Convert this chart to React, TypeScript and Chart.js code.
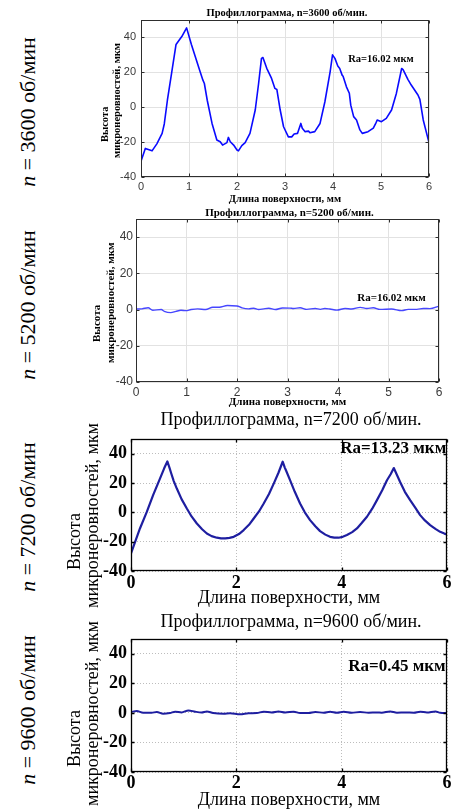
import React, { useEffect, useRef } from 'react';
import { Chart, registerables } from 'chart.js';

Chart.register(...registerables);

// ---------- data ----------
const SPEEDS = ['3600', '5200', '7200', '9600'];
const RA_VALUES = ['16.02', '16.02', '13.23', '0.45'];
const X_TICKS_1MM = [0, 1, 2, 3, 4, 5, 6];
const X_TICKS_2MM = [0, 2, 4, 6];
const Y_TICKS = [-40, -20, 0, 20, 40];
const X_MIN = 0;
const X_MAX = 6;
const Y_MIN = -40;
const Y_MAX = 50;
const X_TITLE = 'Длина поверхности, мм';
const Y_TITLE_1 = 'Высота';
const Y_TITLE_2 = 'микронеровностей, мкм';

// [position along surface, mm ; height, µm]
const PROFILE_3600: [number, number][] = [
  [0, -31], [0.09, -23.6], [0.23, -25], [0.33, -21], [0.44, -15], [0.485, -9.6],
  [0.55, 4], [0.64, 20], [0.73, 36], [0.85, 40.5], [0.95, 45.5], [1.05, 36],
  [1.11, 30.8], [1.22, 21.3], [1.29, 15.5], [1.32, 13.6], [1.38, 4], [1.48, -9.3],
  [1.58, -18.8], [1.65, -19.8], [1.7, -21.7], [1.79, -20.3], [1.82, -17.3], [1.86, -19.8],
  [1.93, -21.7], [2.0, -24.5], [2.03, -25], [2.1, -22], [2.17, -20.3], [2.27, -15],
  [2.38, -1.6], [2.45, 13.6], [2.51, 28], [2.54, 28.5], [2.62, 22.3], [2.72, 16.5],
  [2.79, 10.8], [2.83, 10.2], [2.9, -1.6], [2.97, -11.2], [3.07, -17], [3.14, -17],
  [3.19, -15.4], [3.26, -15], [3.33, -9.3], [3.36, -12], [3.42, -14], [3.49, -13.7],
  [3.52, -14.6], [3.62, -14], [3.73, -9.3], [3.83, 3], [3.94, 20.3], [3.99, 30],
  [4.04, 28], [4.1, 23.6], [4.14, 22.2], [4.19, 18.4], [4.21, 17.8], [4.28, 11.7],
  [4.34, 8], [4.37, 1.2], [4.43, -5.4], [4.49, -7.3], [4.56, -13], [4.61, -15],
  [4.73, -14], [4.84, -12], [4.89, -9.3], [4.92, -7.3], [5.01, -8.3], [5.11, -6.4],
  [5.22, -1.6], [5.32, 7.9], [5.43, 22.2], [5.46, 21.6], [5.56, 16], [5.63, 12.7],
  [5.77, 7], [5.81, 4.5], [5.88, -7.3], [6.0, -20.3],
];

const PROFILE_5200: [number, number][] = [
  [0, 0.3], [0.12, 0.4], [0.24, 1.0], [0.33, -0.4], [0.5, 0], [0.56, -1],
  [0.69, -1.7], [0.79, -1], [0.89, -0.4], [0.99, -0.6], [1.09, 0], [1.22, 0.4],
  [1.38, 0], [1.52, 1.3], [1.65, 1.3], [1.81, 2.2], [2.0, 2.0], [2.1, 0.9],
  [2.23, 0.4], [2.33, 0.7], [2.43, 0], [2.53, 0.4], [2.63, 0.7], [2.76, 0],
  [2.9, 0.9], [3.05, 0.8], [3.12, 0.6], [3.25, 1.0], [3.38, 0.1], [3.55, 0.6],
  [3.65, 0.1], [3.74, 0.6], [3.84, 0.3], [3.98, -0.3], [4.14, 0.6], [4.27, 0.3],
  [4.44, 1.2], [4.57, 0.6], [4.7, 1.0], [4.83, 0.1], [5.06, 0.3], [5.26, -0.6],
  [5.39, 0.1], [5.56, 0.1], [5.69, 0.6], [5.82, 0.5], [6.0, 1.9],
];

const PROFILE_7200: [number, number][] = [
  [0, -28], [0.08, -20], [0.17, -11], [0.3, 0.3], [0.42, 11.7], [0.55, 23],
  [0.63, 30], [0.69, 34.7], [0.73, 30.5], [0.76, 27], [0.81, 21.5], [0.87, 16.2],
  [0.96, 9], [1.06, 2.6], [1.15, -2.8], [1.25, -7.6], [1.35, -11.5], [1.44, -14.4],
  [1.53, -16.2], [1.63, -17.3], [1.71, -17.7], [1.79, -17.8], [1.87, -17.4], [1.95, -16.7],
  [2.05, -14.8], [2.14, -12.1], [2.24, -8.5], [2.33, -4.2], [2.43, 0.6], [2.52, 6],
  [2.62, 12.5], [2.71, 19.6], [2.8, 27], [2.88, 34.5], [2.92, 30.5], [2.95, 28],
  [3.02, 22], [3.11, 14], [3.21, 6], [3.3, 0], [3.4, -5.3], [3.5, -9.5],
  [3.59, -12.8], [3.69, -15.2], [3.78, -16.7], [3.86, -17.2], [3.94, -17.3], [4.02, -16.7],
  [4.1, -15.5], [4.2, -13.5], [4.29, -11], [4.38, -7.3], [4.48, -3], [4.58, 2.5],
  [4.67, 8.3], [4.77, 15], [4.86, 21.9], [4.93, 26], [4.99, 30.2], [5.05, 25.5],
  [5.11, 20.7], [5.2, 14], [5.3, 8.3], [5.4, 3], [5.49, -1.9], [5.58, -5.5],
  [5.68, -8.7], [5.78, -11.3], [5.87, -13.3], [5.95, -14.5], [6.0, -15.1],
];

const PROFILE_9600: [number, number][] = [
  [0, 0.6], [0.11, 1.2], [0.23, 0.1], [0.39, 0.1], [0.49, 0.6], [0.61, -0.6],
  [0.74, -0.1], [0.84, 0.8], [0.96, 0.3], [1.09, 1.7], [1.22, 0.8], [1.34, 0.3],
  [1.44, 1.0], [1.56, -0.1], [1.76, -0.6], [1.88, -0.3], [2.07, -1.0], [2.23, -0.3],
  [2.39, -0.1], [2.52, 0.8], [2.67, 0.3], [2.8, 1.0], [2.93, 0.3], [3.09, 0.8],
  [3.21, -0.1], [3.37, -0.1], [3.5, 0.6], [3.66, 0.1], [3.78, 0.8], [3.91, 0.1],
  [4.04, 0.8], [4.19, 0.1], [4.35, 0.6], [4.51, 0.1], [4.67, 0.3], [4.76, 0.1],
  [4.92, 1.0], [5.05, 0.1], [5.21, 0.3], [5.37, 0.1], [5.49, 0.8], [5.62, 0.3],
  [5.78, 1.0], [5.87, 0.1], [6.0, -0.1],
];

// ---------- layout / style ----------
const SERIF = '"Liberation Serif", "Times New Roman", serif';
const SANS = '"Liberation Sans", Arial, sans-serif';

type Panel = {
  key: string;
  profile: [number, number][];
  speed: string;
  ra: string;
  xTicks: number[];
  box: { left: number; top: number; width: number; height: number };
  area: { left: number; top: number; right: number; bottom: number };
  line: { color: string; width: number; smooth: boolean };
  grid: { color: string; dash: number[] };
  frame: { color: string; width: number; tick: number };
  tickFont: { family: string; size: number; weight: string };
  tickColor: string;
  tickPadX: number;
  tickPadY: number;
  titleFont: string;
  titleY: number;
  xTitleFont: string;
  xTitleY: number;
  yTitleFont: string;
  yTitlePos: { x: number; y: number }[];
  raFont: string;
  raAt: [number, number];
  sideLabel: { x: number; y: number };
};

const PANELS: Panel[] = [
  {
    key: 'p3600', profile: PROFILE_3600, speed: SPEEDS[0], ra: RA_VALUES[0], xTicks: X_TICKS_1MM,
    box: { left: 60, top: 0, width: 396, height: 205 },
    area: { left: 141, top: 20, right: 429, bottom: 177 },
    line: { color: '#0a0aff', width: 1.6, smooth: false },
    grid: { color: '#e2e2e2', dash: [] },
    frame: { color: '#2e2e2e', width: 1, tick: 3 },
    tickFont: { family: SANS, size: 11, weight: 'normal' }, tickColor: '#3a3a3a', tickPadX: 3, tickPadY: 5,
    titleFont: `bold 10.5px ${SERIF}`, titleY: 13,
    xTitleFont: `bold 10.5px ${SERIF}`, xTitleY: 199,
    yTitleFont: `bold 10.5px ${SERIF}`, yTitlePos: [{ x: 105.5, y: 142 }, { x: 117.5, y: 158 }],
    raFont: `bold 10.5px ${SERIF}`, raAt: [5.0, 27.6],
    sideLabel: { x: 28, y: 112 },
  },
  {
    key: 'p5200', profile: PROFILE_5200, speed: SPEEDS[1], ra: RA_VALUES[1], xTicks: X_TICKS_1MM,
    box: { left: 60, top: 205, width: 396, height: 204 },
    area: { left: 136, top: 219, right: 439, bottom: 382 },
    line: { color: '#4646ff', width: 1.4, smooth: true },
    grid: { color: '#e2e2e2', dash: [] },
    frame: { color: '#2e2e2e', width: 1, tick: 3 },
    tickFont: { family: SANS, size: 12, weight: 'normal' }, tickColor: '#3a3a3a', tickPadX: 3, tickPadY: 3,
    titleFont: `bold 11px ${SERIF}`, titleY: 213,
    xTitleFont: `bold 11px ${SERIF}`, xTitleY: 402,
    yTitleFont: `bold 11px ${SERIF}`, yTitlePos: [{ x: 97.5, y: 342 }, { x: 111, y: 363 }],
    raFont: `bold 11px ${SERIF}`, raAt: [5.06, 6.4],
    sideLabel: { x: 28, y: 305 },
  },
  {
    key: 'p7200', profile: PROFILE_7200, speed: SPEEDS[2], ra: RA_VALUES[2], xTicks: X_TICKS_2MM,
    box: { left: 60, top: 409, width: 396, height: 200 },
    area: { left: 131, top: 439, right: 447, bottom: 571 },
    line: { color: '#1e1ea0', width: 2.2, smooth: false },
    grid: { color: '#bdbdbd', dash: [1, 2] },
    frame: { color: '#000000', width: 1.3, tick: 3 },
    tickFont: { family: SERIF, size: 18, weight: 'bold' }, tickColor: '#000000', tickPadX: 2, tickPadY: 4,
    titleFont: `18px ${SERIF}`, titleY: 420,
    xTitleFont: `18px ${SERIF}`, xTitleY: 598,
    yTitleFont: `18px ${SERIF}`, yTitlePos: [{ x: 75, y: 570 }, { x: 93.3, y: 608 }],
    raFont: `bold 17px ${SERIF}`, raAt: [4.98, 43.6],
    sideLabel: { x: 28, y: 517 },
  },
  {
    key: 'p9600', profile: PROFILE_9600, speed: SPEEDS[3], ra: RA_VALUES[3], xTicks: X_TICKS_2MM,
    box: { left: 60, top: 609, width: 396, height: 201 },
    area: { left: 131, top: 639, right: 447, bottom: 772 },
    line: { color: '#1e1ea0', width: 2, smooth: true },
    grid: { color: '#bdbdbd', dash: [1, 2] },
    frame: { color: '#000000', width: 1.3, tick: 3 },
    tickFont: { family: SERIF, size: 18, weight: 'bold' }, tickColor: '#000000', tickPadX: 1, tickPadY: 4,
    titleFont: `18px ${SERIF}`, titleY: 622,
    xTitleFont: `18px ${SERIF}`, xTitleY: 800,
    yTitleFont: `18px ${SERIF}`, yTitlePos: [{ x: 75, y: 767 }, { x: 93.3, y: 806 }],
    raFont: `bold 17px ${SERIF}`, raAt: [5.05, 31],
    sideLabel: { x: 28, y: 710 },
  },
];

function makeOverlay(p: Panel) {
  return {
    id: 'overlay-' + p.key,
    afterDraw(chart: any) {
      const { ctx, chartArea: a, scales } = chart;
      const ox = p.box.left;
      const oy = p.box.top;
      ctx.save();
      // MATLAB-style box with inward ticks
      ctx.setLineDash([]);
      ctx.strokeStyle = p.frame.color;
      ctx.lineWidth = p.frame.width;
      const L = Math.round(a.left) + 0.5;
      const T = Math.round(a.top) + 0.5;
      const R = Math.round(a.right) - 0.5;
      const B = Math.round(a.bottom) - 0.5;
      ctx.strokeRect(L, T, R - L, B - T);
      ctx.beginPath();
      for (const t of scales.x.ticks) {
        const px = Math.round(scales.x.getPixelForValue(t.value)) + 0.5;
        ctx.moveTo(px, B); ctx.lineTo(px, B - p.frame.tick);
        ctx.moveTo(px, T); ctx.lineTo(px, T + p.frame.tick);
      }
      for (const t of scales.y.ticks) {
        const py = Math.round(scales.y.getPixelForValue(t.value)) + 0.5;
        ctx.moveTo(L, py); ctx.lineTo(L + p.frame.tick, py);
        ctx.moveTo(R, py); ctx.lineTo(R - p.frame.tick, py);
      }
      ctx.stroke();

      ctx.fillStyle = '#000';
      ctx.textBaseline = 'middle';
      ctx.textAlign = 'center';
      const cx = (a.left + a.right) / 2;
      ctx.font = p.titleFont;
      ctx.fillText(`Профиллограмма, n=${p.speed} об/мин.`, cx + 2, p.titleY - oy);
      ctx.font = p.xTitleFont;
      ctx.fillText(X_TITLE, cx, p.xTitleY - oy);

      ctx.font = p.yTitleFont;
      ctx.textAlign = 'left';
      const yTitles = [Y_TITLE_1, Y_TITLE_2];
      yTitles.forEach((txt, i) => {
        const pos = p.yTitlePos[i];
        ctx.save();
        ctx.translate(pos.x - ox, pos.y - oy);
        ctx.rotate(-Math.PI / 2);
        ctx.fillText(txt, 0, 0);
        ctx.restore();
      });

      ctx.font = p.raFont;
      ctx.textAlign = 'center';
      ctx.fillText(
        `Ra=${p.ra} мкм`,
        scales.x.getPixelForValue(p.raAt[0]),
        scales.y.getPixelForValue(p.raAt[1])
      );
      ctx.restore();
    },
  };
}

function PanelChart({ p }: { p: Panel }) {
  const ref = useRef<HTMLCanvasElement | null>(null);
  useEffect(() => {
    const canvas = ref.current;
    if (!canvas) return;
    const chart = new Chart(canvas, {
      type: 'line',
      data: {
        datasets: [
          {
            data: p.profile.map(([x, y]) => ({ x, y })),
            borderColor: p.line.color,
            borderWidth: p.line.width,
            pointRadius: 0,
            fill: false,
            tension: 0,
            cubicInterpolationMode: p.line.smooth ? 'monotone' : 'default',
            borderJoinStyle: 'round',
            borderCapStyle: 'round',
          } as any,
        ],
      },
      options: {
        responsive: false,
        animation: false,
        devicePixelRatio: 1,
        events: [],
        layout: {
          padding: {
            left: 0,
            top: p.area.top - p.box.top,
            right: p.box.left + p.box.width - p.area.right,
            bottom: 0,
          },
        },
        plugins: {
          legend: { display: false },
          tooltip: { enabled: false },
          title: { display: false },
        },
        scales: {
          x: {
            type: 'linear',
            min: X_MIN,
            max: X_MAX,
            afterBuildTicks: (s: any) => { s.ticks = p.xTicks.map((v) => ({ value: v })); },
            afterFit: (s: any) => { s.height = p.box.top + p.box.height - p.area.bottom; },
            grid: { color: p.grid.color, lineWidth: 1, drawTicks: false },
            border: { display: false, dash: p.grid.dash },
            ticks: {
              autoSkip: false, maxRotation: 0, padding: p.tickPadX,
              font: p.tickFont as any, color: p.tickColor,
            },
          },
          y: {
            type: 'linear',
            min: Y_MIN,
            max: Y_MAX,
            afterBuildTicks: (s: any) => { s.ticks = Y_TICKS.map((v) => ({ value: v })); },
            afterFit: (s: any) => { s.width = p.area.left - p.box.left; },
            grid: { color: p.grid.color, lineWidth: 1, drawTicks: false },
            border: { display: false, dash: p.grid.dash },
            ticks: {
              autoSkip: false, padding: p.tickPadY,
              font: p.tickFont as any, color: p.tickColor,
            },
          },
        },
      } as any,
      plugins: [makeOverlay(p)],
    });
    return () => chart.destroy();
  }, [p]);
  return (
    <canvas
      ref={ref}
      width={p.box.width}
      height={p.box.height}
      style={{
        position: 'absolute',
        left: p.box.left,
        top: p.box.top,
        width: p.box.width,
        height: p.box.height,
      }}
    />
  );
}

export default function App() {
  return (
    <div
      style={{
        position: 'absolute',
        left: 0,
        top: 0,
        width: 456,
        height: 810,
        background: '#ffffff',
        overflow: 'hidden',
      }}
    >
      {PANELS.map((p) => (
        <React.Fragment key={p.key}>
          <div
            style={{
              position: 'absolute',
              left: p.sideLabel.x,
              top: p.sideLabel.y,
              transform: 'translate(-50%, -50%) rotate(-90deg)',
              whiteSpace: 'nowrap',
              fontFamily: '"Liberation Serif", serif',
              fontSize: 22,
              lineHeight: 1,
              color: '#000',
            }}
          >
            <i>n</i> = {p.speed} об/мин
          </div>
          <PanelChart p={p} />
        </React.Fragment>
      ))}
    </div>
  );
}
